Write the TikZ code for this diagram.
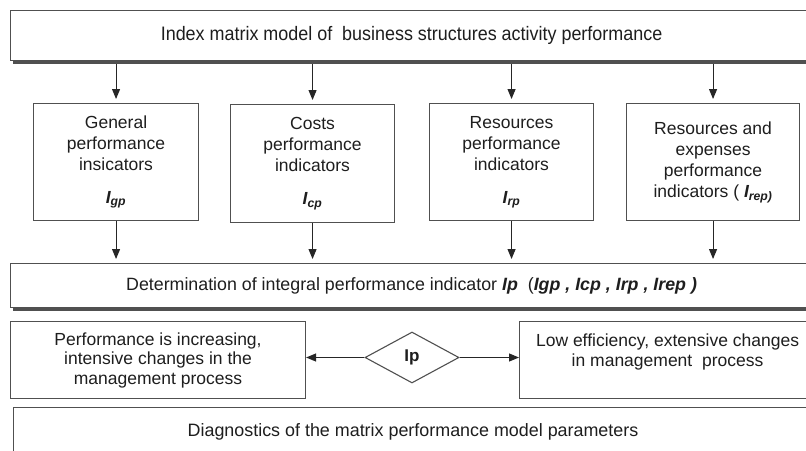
\documentclass[tikz,border=0pt]{standalone}
\usepackage{fontspec}
\setmainfont{Liberation Sans}
\usetikzlibrary{arrows.meta,shapes.geometric,shadows}
\definecolor{ln}{HTML}{505050}
\definecolor{tx}{HTML}{1E1E1E}
\begin{document}
\begin{tikzpicture}[x=1pt,y=-1pt,
  box/.style={draw=ln, line width=1.1pt, fill=white, text=tx, align=center, inner sep=0pt, anchor=north west},
  shad/.style={drop shadow={shadow xshift=2pt, shadow yshift=-3pt, fill=ln, opacity=1}},
  arr/.style={draw=black!85, line width=1.1pt, -{Triangle[width=8pt,length=10pt]}},
  bt/.style={font=\fontsize{17.5}{21}\selectfont},
  ltx/.style={font=\fontsize{17.5}{19.5}\selectfont}
]
\useasboundingbox (0,0) rectangle (806,450);
\clip (0,0) rectangle (806,450);
\fill[white] (0,0) rectangle (806,450);

\node[box, shad, minimum width=802pt, minimum height=50pt] (top) at (10,10)
  {\scalebox{0.92}[1]{\fontsize{19.5}{23}\selectfont Index matrix model of\ \ business structures activity performance}};

\node[box, bt, minimum width=165pt, minimum height=117pt] (b1) at (33,103)
  {General\\performance\\insicators\\[12pt]\textbf{\textit{I\textsubscript{gp}}}};
\node[box, bt, minimum width=164pt, minimum height=118pt] (b2) at (230,104)
  {Costs\\performance\\indicators\\[12pt]\textbf{\textit{I\textsubscript{cp}}}};
\node[box, bt, minimum width=164pt, minimum height=117pt] (b3) at (429,103)
  {Resources\\performance\\indicators\\[12pt]\textbf{\textit{I\textsubscript{rp}}}};
\node[box, bt, minimum width=173pt, minimum height=117pt] (b4) at (626,103)
  {Resources and\\expenses\\performance\\indicators ( \textbf{\textit{I\textsubscript{rep)}}}};

\node[box, shad, minimum width=802pt, minimum height=44pt] (det) at (10,263)
  {\fontsize{17.8}{21}\selectfont Determination of integral performance indicator \textbf{\textit{Ip}}\ \ (\textbf{\textit{Igp , Icp , Irp , Irep )}}};

\node[box, ltx, minimum width=295pt, minimum height=77pt] (lb) at (10,321)
  {Performance is increasing,\\intensive changes in the\\management process};
\node[draw=ln, line width=1.1pt, fill=white, text=tx, diamond, inner sep=0pt,
  minimum width=94pt, minimum height=51pt] (dm) at (412,357.5)
  {\fontsize{17}{20}\selectfont\textbf{Ip}};
\node[box, ltx, minimum width=296pt, minimum height=77pt] (rb) at (519,321)
  {Low efficiency, extensive changes\\in management\ \ process\\\mbox{}};

\node[box, minimum width=800pt, minimum height=60pt] (bb) at (13,407) {};
\node[text=tx, font=\fontsize{17.9}{21}\selectfont] (bbt) at (413,432)
  {Diagnostics of the matrix performance model parameters};

\foreach \b in {b1,b2,b3,b4}{
  \draw[arr, shorten >=4pt] (top.south -| \b.north) ++(0,3) -- (\b.north);
  \draw[arr, shorten >=4pt] (\b.south) -- (\b.south |- det.north);
}
\draw[arr] (dm.west) -- (dm.west -| lb.east);
\draw[arr] (dm.east) -- (dm.east -| rb.west);
\end{tikzpicture}
\end{document}
